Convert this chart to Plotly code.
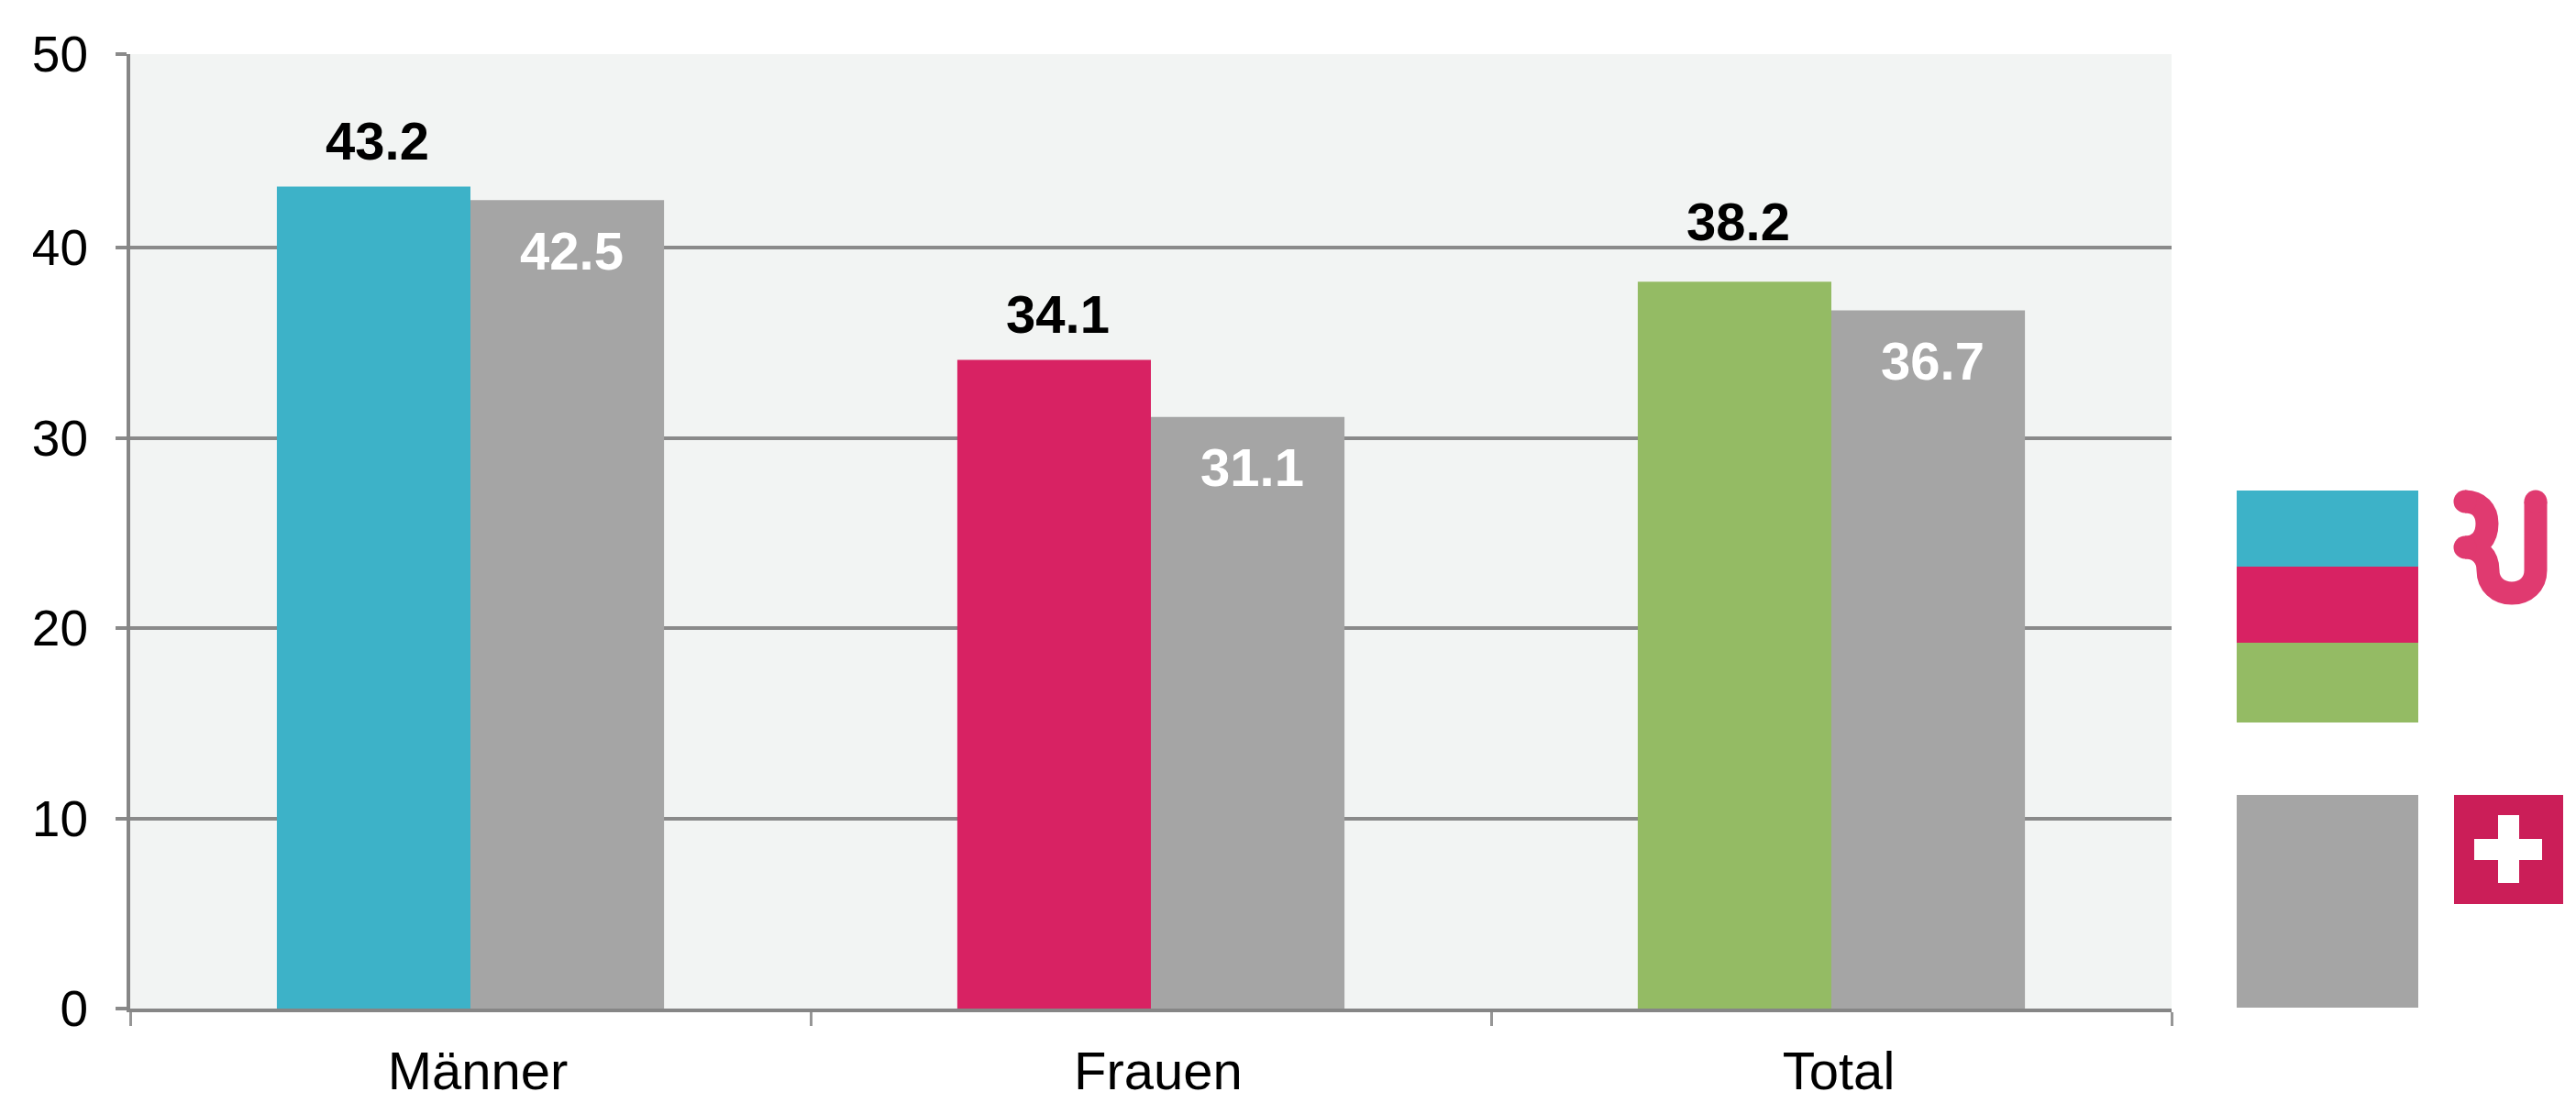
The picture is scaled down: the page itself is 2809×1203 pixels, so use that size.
import plotly.graph_objects as go

categories = ["Männer", "Frauen", "Total"]
region_values = [43.2, 34.1, 38.2]
swiss_values = [42.5, 31.1, 36.7]
region_colors = ["#3db2c8", "#d82263", "#94bb64"]
swiss_color = "#a5a5a5"
y_tick_labels = ["0", "10", "20", "30", "40", "50"]
y_tick_positions = [0, 10, 20, 30, 40, 50.17]
region_label_lift = [50, 50, 66]

W, H = 2809, 1203
L, R, T, B = 142, 2368, 59, 1100
FONT = "Liberation Sans, Arial, sans-serif"


def px(x):
    return (x - L) / (R - L)


def py(y):
    return (B - y) / (B - T)


def rect(x0, y0, x1, y1, color):
    return dict(type="rect", xref="paper", yref="paper", x0=px(x0), x1=px(x1),
                y0=py(y0), y1=py(y1), fillcolor=color, line_width=0, layer="above")


def path_str(parts):
    out = []
    for p in parts:
        out.append(p[0] + " " + " ".join(
            f"{px(p[i]):.5f},{py(p[i + 1]):.5f}" for i in range(1, len(p), 2)))
    return " ".join(out)


fig = go.Figure()
fig.add_bar(x=categories, y=region_values, name="Region",
            marker=dict(color=region_colors, line_width=0))
fig.add_bar(x=categories, y=swiss_values, name="Schweiz",
            marker=dict(color=swiss_color, line_width=0))

annotations = []
for c, v, lift in zip(categories, region_values, region_label_lift):
    annotations.append(dict(x=c, y=v, text=f"<b>{v:.1f}</b>", showarrow=False,
                            xshift=-102, yshift=lift, yanchor="middle",
                            font=dict(family=FONT, size=58, color="#000000")))
for c, v in zip(categories, swiss_values):
    annotations.append(dict(x=c, y=v, text=f"<b>{v:.1f}</b>", showarrow=False,
                            xshift=110, yshift=-55, yanchor="middle",
                            font=dict(family=FONT, size=58, color="#ffffff")))

LOGO = "#e03a70"
FLAG = "#cb1e58"
shapes = [
    rect(2439, 535, 2637, 618, region_colors[0]),
    rect(2439, 618, 2637, 701, region_colors[1]),
    rect(2439, 701, 2637, 788, region_colors[2]),
    rect(2439, 867, 2637, 1099, swiss_color),
    rect(2676, 867, 2795, 986, FLAG),
    rect(2724, 889, 2747, 963, "#ffffff"),
    rect(2698, 915, 2772, 938, "#ffffff"),
    dict(type="path", xref="paper", yref="paper", layer="above",
         line=dict(color=LOGO, width=25), fillcolor="rgba(0,0,0,0)",
         path=path_str([
             ("M", 2688, 547),
             ("C", 2703, 547, 2712, 557, 2712, 571),
             ("C", 2712, 587, 2703, 597, 2688, 597),
             ("C", 2703, 597, 2713, 607, 2713, 622),
             ("C", 2713, 637, 2724, 647, 2739, 647),
             ("C", 2754, 647, 2765, 637, 2765, 622),
             ("L", 2765, 547),
         ])),
]
for cx, cy in [(2688, 547), (2688, 597), (2765, 547)]:
    shapes.append(dict(type="circle", xref="paper", yref="paper", layer="above",
                       x0=px(cx - 12.5), x1=px(cx + 12.5), y0=py(cy + 12.5), y1=py(cy - 12.5),
                       fillcolor=LOGO, line_width=0))

fig.update_layout(
    width=W, height=H, autosize=False,
    margin=dict(l=L, r=W - R, t=T, b=H - B, pad=0, autoexpand=False),
    paper_bgcolor="#ffffff", plot_bgcolor="#f2f4f3",
    barmode="group", bargap=0.431, bargroupgap=0,
    showlegend=False,
    font=dict(family=FONT, size=55, color="#000000"),
    annotations=annotations, shapes=shapes,
)
fig.update_xaxes(type="category", tickson="boundaries", ticks="outside", ticklen=15,
                 tickwidth=3, tickcolor="#969696", showline=True, linecolor="#868686",
                 linewidth=4, showgrid=False, zeroline=False, ticklabelshift=8, automargin=False,
                 ticklabelstandoff=14, tickfont=dict(family=FONT, size=58, color="#000000"))
fig.update_yaxes(range=[0, 50.17], tickvals=y_tick_positions, ticktext=y_tick_labels,
                 ticks="outside", ticklen=12, tickwidth=4,
                 tickcolor="#8a8a8a", showline=True, linecolor="#868686", linewidth=4, automargin=False,
                 showgrid=True, gridcolor="#8a8a8a", gridwidth=4, zeroline=False,
                 ticklabelstandoff=19, tickfont=dict(family=FONT, size=55, color="#000000"))

fig.write_html("out.html", config=dict(displayModeBar=False),
               post_script="document.body.style.margin='0';document.documentElement.style.overflow='hidden';")
